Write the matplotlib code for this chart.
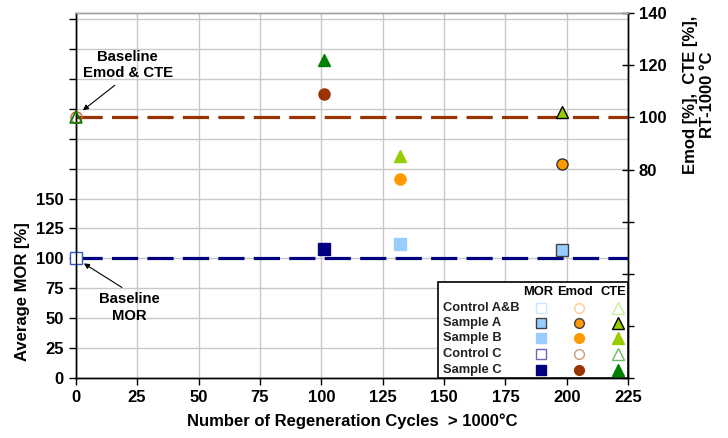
import matplotlib
matplotlib.use("Agg")
import matplotlib.pyplot as plt
from matplotlib.patches import Rectangle

plt.rcParams['font.family'] = ['Liberation Sans', 'DejaVu Sans']
plt.rcParams['font.weight'] = 'bold'

# ---- data ----
cycles_baseline = 0
cycles_sampleC = 101
cycles_sampleB = 132
cycles_sampleA = 198

mor_baseline = 100
mor_sampleC = 108
mor_sampleB = 112
mor_sampleA = 107

emod_baseline = 100
emod_sampleC = 109
emod_sampleB = 76.5
emod_sampleA = 82

cte_baseline = 100
cte_sampleC = 122
cte_sampleB = 85
cte_sampleA = 102

x_ticks = [0, 25, 50, 75, 100, 125, 150, 175, 200, 225]
left_ticks = list(range(0, 301, 25))
left_labels = [str(v) if v <= 150 else "" for v in left_ticks]
right_ticks = list(range(0, 141, 20))
right_labels = [str(v) if v >= 80 else "" for v in right_ticks]

legend_rows = ["Control A&B", "Sample A", "Sample B", "Control C", "Sample C"]
legend_cols = ["MOR", "Emod", "CTE"]

# ---- figure ----
fig = plt.figure(figsize=(7.28, 4.38), dpi=100)
ax = fig.add_axes([0.104, 0.137, 0.759, 0.833])
ax2 = ax.twinx()

ax.set_xlim(0, 225)
ax.set_ylim(0, 305)
ax2.set_ylim(0, 140)

ax.set_xticks(x_ticks)
ax.set_yticks(left_ticks)
ax.set_yticklabels(left_labels)
ax2.set_yticks(right_ticks)
ax2.set_yticklabels(right_labels)

ax.grid(True, color='#c8c8c8', linewidth=1.0)
ax.set_axisbelow(True)

for a in (ax, ax2):
    a.tick_params(labelsize=12, width=1.0, color='black')
    for s in a.spines.values():
        s.set_color('black')
        s.set_linewidth(1.0)
    a.spines['top'].set_color('#a0a0a0')
ax.tick_params(axis='both', direction='out', length=5)
ax2.tick_params(axis='y', direction='inout', length=8)
for lab in ax.get_xticklabels() + ax.get_yticklabels() + ax2.get_yticklabels():
    lab.set_fontweight('bold')

ax.set_xlabel("Number of Regeneration Cycles  > 1000°C", fontsize=12, fontweight='bold', labelpad=6)
ax.set_ylabel("Average MOR [%]", fontsize=12, fontweight='bold')
ax.yaxis.set_label_coords(-0.083, 0.236)
fig.text(0.960, 0.783, "Emod [%],  CTE [%],\nRT-1000 °C", rotation=90, ha='center', va='center',
         fontsize=12, fontweight='bold', linespacing=1.2, multialignment='center')

navy = '#000080'
brown = '#993300'
orange = '#FF9900'
lblue = '#99CCFF'
green = '#008000'
ygreen = '#99CC00'

# baseline dashed lines
ax.plot([0, 225], [mor_baseline, mor_baseline], color=navy, lw=2.3, dashes=(8.2, 2.9), zorder=2)
ax2.plot([0, 225], [emod_baseline, emod_baseline], color=brown, lw=2.3, dashes=(8.2, 2.9), zorder=2)

# MOR
ax.plot([cycles_baseline], [mor_baseline], marker='s', ms=8.5, mfc='white', mec='#3355CC', mew=1.0, ls='none', zorder=5, clip_on=False)
ax.plot([cycles_sampleC], [mor_sampleC], marker='s', ms=8, mfc=navy, mec=navy, ls='none', zorder=5)
ax.plot([cycles_sampleB], [mor_sampleB], marker='s', ms=8, mfc=lblue, mec=lblue, ls='none', zorder=5)
ax.plot([cycles_sampleA], [mor_sampleA], marker='s', ms=8, mfc=lblue, mec='#404040', mew=1.0, ls='none', zorder=5)

# Emod & CTE
ax2.plot([cycles_baseline], [emod_baseline], marker='o', ms=8, mfc='none', mec='#CC6633', mew=1.0, ls='none', zorder=5, clip_on=False)
ax2.plot([cycles_baseline], [cte_baseline], marker='^', ms=8, mfc='none', mec=green, mew=1.2, ls='none', zorder=6, clip_on=False)
ax2.plot([cycles_sampleC], [emod_sampleC], marker='o', ms=8, mfc=brown, mec=brown, ls='none', zorder=5)
ax2.plot([cycles_sampleC], [cte_sampleC], marker='^', ms=9, mfc=green, mec=green, ls='none', zorder=5)
ax2.plot([cycles_sampleB], [emod_sampleB], marker='o', ms=8, mfc=orange, mec=orange, ls='none', zorder=5)
ax2.plot([cycles_sampleB], [cte_sampleB], marker='^', ms=9, mfc=ygreen, mec=ygreen, ls='none', zorder=5)
ax2.plot([cycles_sampleA], [emod_sampleA], marker='o', ms=8, mfc=orange, mec='#333333', mew=1.0, ls='none', zorder=5)
ax2.plot([cycles_sampleA], [cte_sampleA], marker='^', ms=9, mfc=ygreen, mec='black', mew=1.0, ls='none', zorder=5)

# annotations
ax2.text(21.2, 120, "Baseline\nEmod & CTE", ha='center', va='center', fontsize=10.7,
         fontweight='bold', linespacing=1.2)
ax2.annotate("", xy=(2.9, 102.7), xytext=(15.9, 112.3),
             arrowprops=dict(arrowstyle='-|>', color='black', lw=0.8, shrinkA=0, shrinkB=0,
                             mutation_scale=8))
ax.text(22, 59, "Baseline\nMOR", ha='center', va='center', fontsize=10.7,
        fontweight='bold', linespacing=1.2)
ax.annotate("", xy=(3.3, 95.8), xytext=(18.8, 75.7),
            arrowprops=dict(arrowstyle='-|>', color='black', lw=0.8, shrinkA=0, shrinkB=0,
                            mutation_scale=8))

# custom legend table (axes coords)
ax2.add_patch(Rectangle((0.656, 0.0), 0.344, 0.263, transform=ax2.transAxes,
                        facecolor='white', edgecolor='black', lw=1.2, zorder=10, clip_on=False))
col_x = [0.842, 0.911, 0.982]
head_x = [0.837, 0.904, 0.973]
row_y = [0.193, 0.151, 0.110, 0.066, 0.022]
head_y = 0.236
for hx, name in zip(head_x, legend_cols):
    ax2.text(hx, head_y, name, transform=ax2.transAxes, ha='center', va='center',
             fontsize=9.3, fontweight='bold', zorder=11)
for ry, name in zip(row_y, legend_rows):
    ax2.text(0.665, ry, name, transform=ax2.transAxes, ha='left', va='center',
             fontsize=9.3, fontweight='bold', color='#222222', zorder=11)

legend_styles = [
    [dict(marker='s', mfc='white', mec='#CCE5FF'), dict(marker='o', mfc='white', mec='#FFCC99'), dict(marker='^', mfc='white', mec='#CCEE99')],
    [dict(marker='s', mfc=lblue, mec='#404040'), dict(marker='o', mfc=orange, mec='#404040'), dict(marker='^', mfc=ygreen, mec='black')],
    [dict(marker='s', mfc=lblue, mec=lblue), dict(marker='o', mfc=orange, mec=orange), dict(marker='^', mfc=ygreen, mec=ygreen)],
    [dict(marker='s', mfc='white', mec='#6666BB'), dict(marker='o', mfc='white', mec='#CC9977'), dict(marker='^', mfc='white', mec='#66BB66')],
    [dict(marker='s', mfc=navy, mec=navy), dict(marker='o', mfc=brown, mec=brown), dict(marker='^', mfc=green, mec=green)],
]
for ry, styles in zip(row_y, legend_styles):
    for cx, st in zip(col_x, styles):
        ax2.plot([cx], [ry], transform=ax2.transAxes, ls='none', ms=8 if st['marker'] == '^' else 7,
                 mew=1.0, zorder=12, clip_on=False, **st)

fig.savefig("out.png", dpi=100)
